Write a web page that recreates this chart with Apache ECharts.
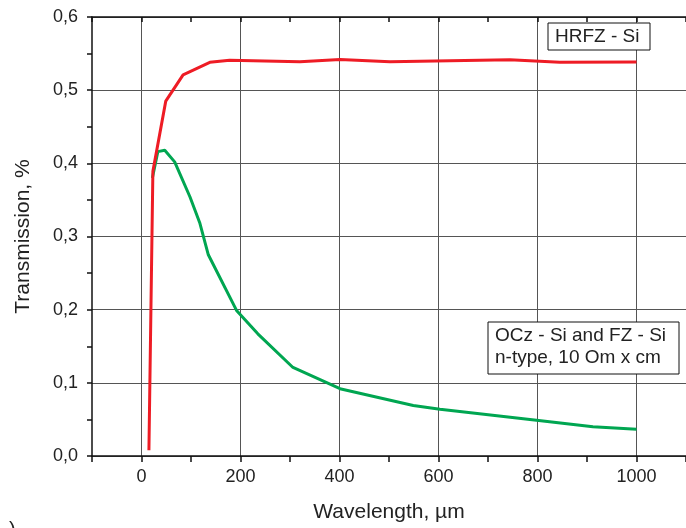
<!DOCTYPE html>
<html>
<head>
<meta charset="utf-8">
<script src="https://cdn.jsdelivr.net/npm/echarts@6/dist/echarts.min.js"></script>
<style>
  html, body { margin: 0; padding: 0; background: #fff; }
  #box { width: 686px; height: 528px; }
</style>
</head>
<body>
<div id="box"></div>
<script>
// HRFZ - Si
let hrfzX = [15, 23, 49, 84, 138, 178, 320, 401, 502, 744, 845, 1000];
let hrfzY = [0.008, 0.389, 0.485, 0.521, 0.538, 0.541, 0.539, 0.542, 0.539, 0.5415, 0.538, 0.5385];

// OCz - Si and FZ - Si, n-type
let oczX = [22, 33, 47, 67, 98, 118, 135, 192, 235, 306, 401, 549, 603, 798, 912, 1000];
let oczY = [0.38, 0.416, 0.418, 0.402, 0.354, 0.318, 0.275, 0.199, 0.167, 0.121, 0.092, 0.069, 0.064, 0.049, 0.040, 0.0365];

let xLabels = [0, 200, 400, 600, 800, 1000];

let font = 'Liberation Sans, Arial, sans-serif';

function pairs(xs, ys) {
    return xs.map(function (x, i) { return [x, ys[i]]; });
}

let chart = echarts.init(document.getElementById('box'));

let option = {
    backgroundColor: '#fff',
    animation: false,
    grid: { left: 92, right: 0, top: 17, bottom: 72, outerBoundsMode: 'none', containLabel: false },
    xAxis: [{
        type: 'value',
        min: -100, max: 1100, interval: 100,
        name: 'Wavelength, µm',
        nameLocation: 'middle',
        nameGap: 46,
        nameTextStyle: { fontFamily: font, fontSize: 21, color: '#222' },
        axisLine: { onZero: false, lineStyle: { color: '#111', width: 1.5 } },
        axisTick: { show: true, inside: false, length: 6, lineStyle: { color: '#111', width: 1.5 } },
        axisLabel: {
            margin: 12,
            fontFamily: font, fontSize: 18, color: '#222',
            formatter: function (v) {
                return xLabels.indexOf(v) >= 0 ? String(v) : '';
            }
        },
        splitLine: { show: true, showMaxLine: false, lineStyle: { color: ['transparent', '#555'], width: 1 } }
    }, {
        type: 'value',
        position: 'top',
        min: -100, max: 1100, interval: 100,
        axisLine: { onZero: false, lineStyle: { color: '#111', width: 1.5 } },
        axisTick: { show: true, inside: true, length: 5, lineStyle: { color: '#111', width: 1.5 } },
        axisLabel: { show: false },
        splitLine: { show: false }
    }],
    yAxis: {
        type: 'value',
        min: 0, max: 0.6, interval: 0.05,
        name: 'Transmission, %',
        nameLocation: 'middle',
        nameGap: 58,
        nameTextStyle: { fontFamily: font, fontSize: 21, color: '#222' },
        axisLine: { show: true, onZero: false, lineStyle: { color: '#111', width: 1.5 } },
        axisTick: { show: true, inside: false, length: 5, lineStyle: { color: '#111', width: 1.5 } },
        axisLabel: {
            margin: 14,
            fontFamily: font, fontSize: 18, color: '#222',
            formatter: function (v) {
                let k = Math.round(v * 100);
                return k % 10 === 0 ? (k / 100).toFixed(1).replace('.', ',') : '';
            }
        },
        splitLine: { show: true, lineStyle: { color: ['#555', 'transparent'], width: 1 } }
    },
    series: [{
        name: 'OCz - Si and FZ - Si',
        type: 'line',
        data: pairs(oczX, oczY),
        showSymbol: false,
        lineStyle: { color: '#00a651', width: 3 },
        z: 3
    }, {
        name: 'HRFZ - Si',
        type: 'line',
        data: pairs(hrfzX, hrfzY),
        showSymbol: false,
        lineStyle: { color: '#ee1c25', width: 3 },
        z: 4
    }],
    graphic: [
        { type: 'rect', z: 10, shape: { x: 548, y: 23, width: 102, height: 27 },
          style: { fill: '#fff', stroke: '#111', lineWidth: 1 } },
        { type: 'text', z: 11, x: 555, y: 36.6,
          style: { text: 'HRFZ - Si', font: '19px ' + font, fill: '#222', verticalAlign: 'middle' } },
        { type: 'rect', z: 10, shape: { x: 488, y: 322, width: 191, height: 52 },
          style: { fill: '#fff', stroke: '#111', lineWidth: 1 } },
        { type: 'text', z: 11, x: 495, y: 335.3,
          style: { text: 'OCz - Si and FZ - Si', font: '19px ' + font, fill: '#222', verticalAlign: 'middle' } },
        { type: 'text', z: 11, x: 495, y: 357.3,
          style: { text: 'n-type, 10 Om x cm', font: '19px ' + font, fill: '#222', verticalAlign: 'middle' } },
        { type: 'text', z: 11, x: 9, y: 520,
          style: { text: ')', font: '20px ' + font, fill: '#222' } }
    ]
};

chart.setOption(option);
</script>
</body>
</html>
